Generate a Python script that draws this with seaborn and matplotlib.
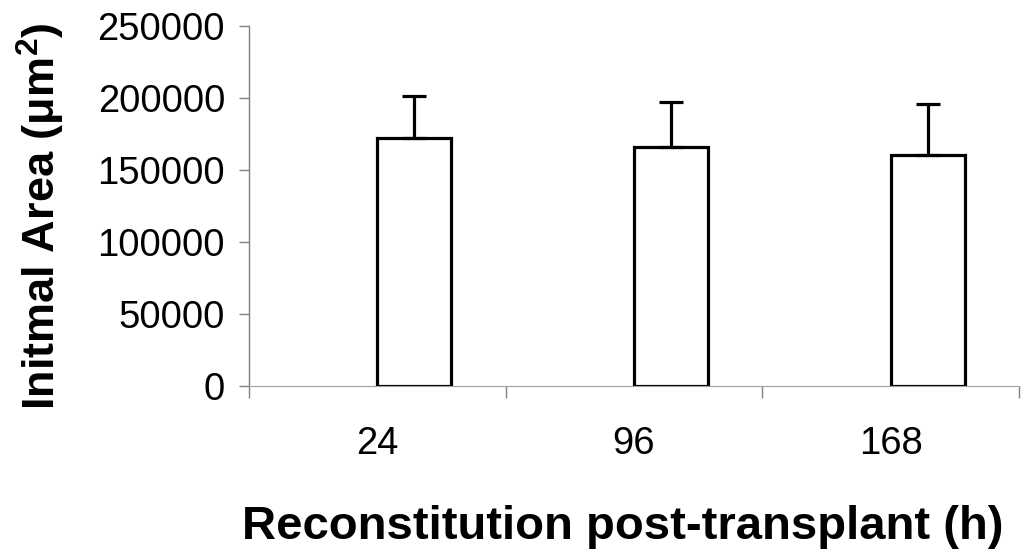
import numpy as np
import pandas as pd
import matplotlib
matplotlib.use('Agg')
import matplotlib.pyplot as plt
import seaborn as sns

# Intimal area after reconstitution, mean and SD per time point
times = ['24', '96', '168']
mean_area = [172500, 166000, 160300]
sd_area = [28800, 31300, 35500]
y_ticks = [0, 50000, 100000, 150000, 200000, 250000]

sns.set_style('white')
plt.rcParams['font.family'] = ['Liberation Sans', 'DejaVu Sans']
plt.rcParams['mathtext.fontset'] = 'custom'
plt.rcParams['mathtext.rm'] = 'Liberation Sans'
plt.rcParams['mathtext.bf'] = 'Liberation Sans:bold'
plt.rcParams['text.color'] = 'black'
plt.rcParams['axes.labelcolor'] = 'black'

df = pd.DataFrame({'time': times, 'area': mean_area, 'group': 'measured'})

fig = plt.figure(figsize=(10.23, 5.51), dpi=100)
ax = fig.add_axes([249 / 1023, 1 - 386 / 551, 770 / 1023, 360 / 551])

# an empty leading hue slot puts each bar just right of its category centre
sns.barplot(data=df, x='time', y='area', hue='group', order=times,
            hue_order=['spacer', 'measured'], dodge=True, width=0.576,
            palette={'spacer': 'white', 'measured': 'white'}, saturation=1,
            edgecolor='black', linewidth=2.3, errorbar=None, legend=False,
            ax=ax, zorder=2)

bars = sorted([p for p in ax.patches if p.get_height() > 0], key=lambda p: p.get_x())
for bar, sd in zip(bars, sd_area):
    xc = bar.get_x() + bar.get_width() / 2
    ax.errorbar(xc, bar.get_height(), yerr=[[0], [sd]], fmt='none',
                ecolor='black', elinewidth=2.3, capsize=8.3, capthick=2.3,
                zorder=3)

ax.set_xlim(-0.5, 2.5)
ax.set_ylim(0, 250000)

for side in ('top', 'right'):
    ax.spines[side].set_visible(False)
ax.spines['left'].set_color('#808080')
ax.spines['left'].set_linewidth(1.0)
ax.spines['bottom'].set_color('#a0a0a0')
ax.spines['bottom'].set_linewidth(0.8)

ax.set_yticks(y_ticks)
ax.set_yticklabels([str(v) for v in y_ticks])
ax.tick_params(axis='y', left=True, direction='out', length=7.2, width=1,
               color='#808080', labelcolor='black', pad=10, labelsize=27.5)

ax.set_xticks(range(len(times)))
ax.set_xticklabels(times)
ax.tick_params(axis='x', which='major', bottom=True, length=0, pad=29,
               labelcolor='black', labelsize=27.5)
ax.set_xticks([-0.5, 0.5, 1.5, 2.5], minor=True)
ax.tick_params(axis='x', which='minor', bottom=True, direction='out',
               length=8.6, width=1, color='#808080')

ax.set_xlabel('Reconstitution post-transplant (h)', fontsize=34, fontweight='bold')
ax.xaxis.set_label_coords(0.486, -0.33)
ax.set_ylabel('Initmal Area (μm$^{\\mathbf{2}}$)', fontsize=32.5, fontweight='bold')
ax.yaxis.set_label_coords(-0.236, 0.472)

fig.savefig('out.png', dpi=100)
